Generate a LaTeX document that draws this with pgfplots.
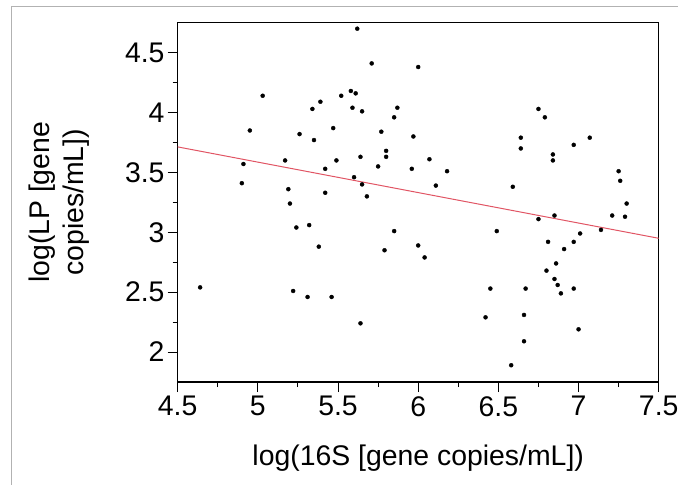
\documentclass[border=0pt]{standalone}
\usepackage{fontspec}
\setmainfont{Liberation Sans}
\usepackage{pgfplots}
\pgfplotsset{compat=1.18}
\definecolor{fitred}{RGB}{225,85,100}
\begin{document}
\begin{tikzpicture}
\useasboundingbox (-177.7bp,-103bp) rectangle (500.3bp,382bp);
\draw[gray!60, line width=1bp] (-165.7bp,-103bp) -- (-165.7bp,375bp) -- (500.3bp,375bp);
\begin{axis}[
  at={(0,0)}, anchor=south west,
  scale only axis, width=481bp, height=359.3bp,
  xmin=4.5, xmax=7.5, ymin=1.75, ymax=4.75,
  xtick={4.5,5,5.5,6,6.5,7,7.5},
  ytick={2,2.5,3,3.5,4,4.5},
  minor x tick num=1, minor y tick num=1,
  xtick pos=left, ytick pos=left,
  tick align=outside,
  major tick length=10bp, minor tick length=5bp,
  axis line style={line width=1.2bp},
  every tick/.style={black, line width=1bp},
  tick label style={font=\fontsize{28.5}{30}\selectfont},
  /pgf/number format/assume math mode=true,
  /pgf/number format/fixed,
  xticklabel style={inner sep=2bp, yshift=-2bp},
  yticklabel style={inner sep=3bp},
  xlabel={log(16S [gene copies/mL])},
  ylabel={log(LP [gene\\copies/mL])},
  xlabel style={at={(axis description cs:0.5,0)}, anchor=base, yshift=-83bp, font=\fontsize{28.5}{30}\selectfont},
  ylabel style={at={([xshift=-87.7bp]axis description cs:0,0.5)}, anchor=south, rotate=0, inner sep=0pt, align=center, font=\fontsize{28.5}{35}\selectfont},
  clip=true,
]
\addplot[only marks, mark=*, mark size=2bp, black] coordinates {
(5.62,4.70) (5.71,4.41) (6.00,4.38) (5.03,4.14) (5.58,4.18) (5.61,4.16)
(5.52,4.14) (5.39,4.09) (5.34,4.03) (5.59,4.04) (5.65,4.01) (5.87,4.04)
(5.85,3.96) (4.95,3.85) (5.47,3.87) (5.26,3.82) (5.35,3.77) (5.77,3.84)
(5.97,3.80) (5.80,3.68) (5.80,3.63) (5.64,3.63) (5.49,3.60) (5.17,3.60)
(4.91,3.57) (5.75,3.55) (5.42,3.53) (5.96,3.53) (5.60,3.46) (4.90,3.41)
(5.65,3.40) (5.19,3.36) (5.42,3.33) (5.68,3.30) (6.75,4.03) (6.79,3.96)
(6.64,3.79) (6.64,3.70) (7.07,3.79) (6.97,3.73) (6.84,3.65) (6.84,3.60)
(6.07,3.61) (6.18,3.51) (7.25,3.51) (7.26,3.43) (6.11,3.39) (6.59,3.38)
(5.20,3.24) (5.24,3.04) (5.32,3.06) (5.38,2.88) (5.79,2.85) (5.85,3.01)
(6.00,2.89) (4.64,2.54) (5.22,2.51) (5.31,2.46) (5.46,2.46) (5.64,2.24)
(7.30,3.24) (7.21,3.14) (7.29,3.13) (6.85,3.14) (6.75,3.11) (7.14,3.02)
(6.49,3.01) (7.01,2.99) (6.04,2.79) (6.81,2.92) (6.97,2.92) (6.91,2.86)
(6.86,2.74) (6.80,2.68) (6.85,2.61) (6.87,2.56) (6.89,2.49) (6.97,2.53)
(6.45,2.53) (6.67,2.53) (6.42,2.29) (6.66,2.31) (7.00,2.19) (6.66,2.09)
(6.58,1.89)
};
\addplot[fitred, line width=1bp] coordinates {(4.5,3.713) (7.5,2.95)};
\end{axis}
\end{tikzpicture}
\end{document}
